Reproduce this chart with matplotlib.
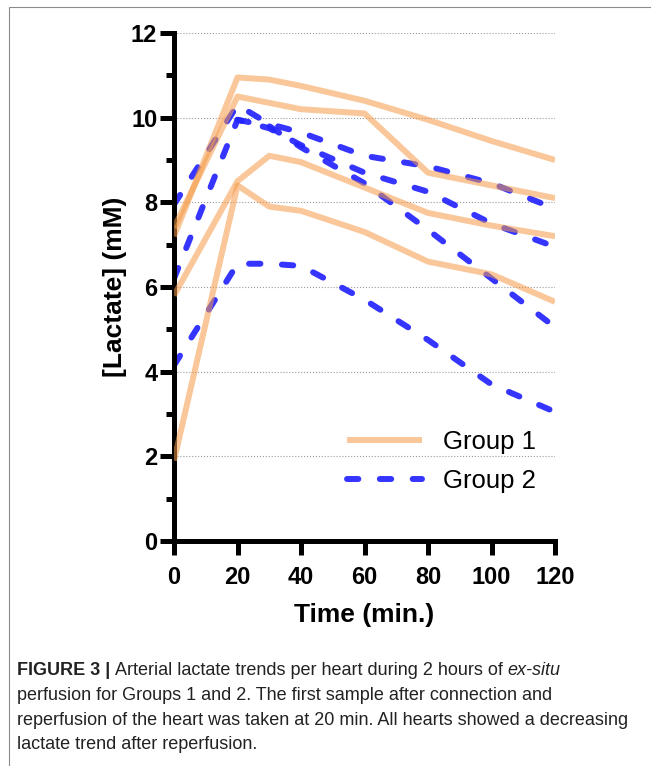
import numpy as np
import matplotlib.pyplot as plt
from matplotlib.patches import Rectangle

plt.rcParams['font.family'] = ['Liberation Sans', 'DejaVu Sans']

# tiempos de muestreo (min)
tiempo = [0, 20, 30, 40, 60, 80, 100, 120]

# lactato arterial (mM) por corazon - grupo 1
g1_c1 = [7.2, 10.95, 10.9, 10.75, 10.4, 9.95, 9.45, 9.0]
g1_c2 = [7.4, 10.5, 10.35, 10.2, 10.1, 8.7, 8.4, 8.1]
g1_c3 = [5.8, 8.5, 9.1, 8.95, 8.35, 7.75, 7.45, 7.2]
g1_c4 = [1.9, 8.4, 7.9, 7.8, 7.3, 6.6, 6.3, 5.65]

# grupo 2 (un corazon sin muestra en t=0)
g2_c1 = [7.95, 10.3, 9.85, 9.65, 9.1, 8.85, 8.45, 7.85]
g2_c2 = [6.2, 9.95, 9.75, 9.35, 8.7, 8.25, 7.5, 6.95]
g2_c3 = [np.nan, 9.95, 9.8, 9.3, 8.45, 7.35, 6.2, 5.05]
g2_c4 = [4.15, 6.55, 6.55, 6.5, 5.7, 4.75, 3.7, 3.05]

grupo1 = [g1_c1, g1_c2, g1_c3, g1_c4]
grupo2 = [g2_c1, g2_c2, g2_c3, g2_c4]
etiquetas = ['Group 1', 'Group 2']

fig = plt.figure(figsize=(6.51, 7.66), dpi=100)
ax = fig.add_axes([0.2673, 0.2937, 0.5853, 0.6632])

# grupo 2 primero, el naranja va encima (semitransparente)
lineas2 = []
for valores in grupo2:
    l, = ax.plot(tiempo, valores, color='#2424FF', lw=4.3, alpha=0.92,
                 ls=(0, (1.9, 3.6)), dash_capstyle='round', zorder=2)
    lineas2.append(l)
lineas1 = []
for valores in grupo1:
    l, = ax.plot(tiempo, valores, color='#F59A46', lw=4.3, alpha=0.55,
                 solid_capstyle='butt', zorder=3)
    lineas1.append(l)

ax.set_xlim(0, 120)
ax.set_ylim(0, 12)
ax.set_xticks(range(0, 121, 20))
ax.set_yticks(range(0, 13, 2))
ax.set_yticks(range(1, 12, 2), minor=True)

ax.yaxis.grid(True, which='major', ls=':', color='#9a9a9a', lw=0.8)
ax.set_axisbelow(True)

for lado in ['top', 'right']:
    ax.spines[lado].set_visible(False)
for lado in ['left', 'bottom']:
    ax.spines[lado].set_linewidth(3.6)

ax.tick_params(axis='both', which='major', length=10, width=3.6, labelsize=17)
ax.tick_params(axis='y', which='minor', length=5.5, width=3.6)
ax.tick_params(axis='x', pad=8)
ax.tick_params(axis='y', pad=2)
for lab in ax.get_xticklabels() + ax.get_yticklabels():
    lab.set_fontweight('bold')

ax.set_xlabel('Time (min.)', fontsize=19, fontweight='bold')
ax.set_ylabel('[Lactate] (mM)', fontsize=19, fontweight='bold')
ax.xaxis.set_label_coords(0.5, -0.1457)
ax.xaxis.label.set_verticalalignment('center')
ax.yaxis.set_label_coords(-0.155, 0.5)
ax.yaxis.label.set_verticalalignment('center')

ax.legend([lineas1[0], lineas2[0]], etiquetas,
          loc='center left', bbox_to_anchor=(0.454, 0.156), frameon=False,
          fontsize=18.5, handlelength=2.9, handletextpad=0.85,
          labelspacing=0.6, borderpad=0, borderaxespad=0)

# marco gris de la figura (solo se ve arriba y a la izquierda)
marco = Rectangle((9 / 651, -1), 2, 2 - 7 / 766, transform=fig.transFigure,
                  fill=False, edgecolor='#8a8a8a', lw=0.8, clip_on=False)
fig.add_artist(marco)

# pie de figura
lineas_pie = [
    [('FIGURE 3 |', 'bold', 'normal'),
     ('Arterial lactate trends per heart during 2 hours of', 'normal', 'normal'),
     ('ex-situ', 'normal', 'italic')],
    [('perfusion for Groups 1 and 2. The first sample after connection and', 'normal', 'normal')],
    [('reperfusion of the heart was taken at 20 min. All hearts showed a decreasing', 'normal', 'normal')],
    [('lactate trend after reperfusion.', 'normal', 'normal')],
]
base_y = [675, 700, 725, 749]

for linea, yb in zip(lineas_pie, base_y):
    previo = None
    for texto, peso, estilo in linea:
        if previo is None:
            previo = fig.text(17 / 651, 1 - yb / 766, texto, fontsize=13,
                              weight=peso, style=estilo,
                              color='#222222', va='baseline', ha='left')
        else:
            previo = ax.annotate(texto, xy=(1, 0), xycoords=previo,
                                 xytext=(3.3, 0), textcoords='offset points',
                                 fontsize=13, weight=peso,
                                 style=estilo, color='#222222',
                                 va='bottom', ha='left', annotation_clip=False)

fig.savefig('out.png', dpi=100)
